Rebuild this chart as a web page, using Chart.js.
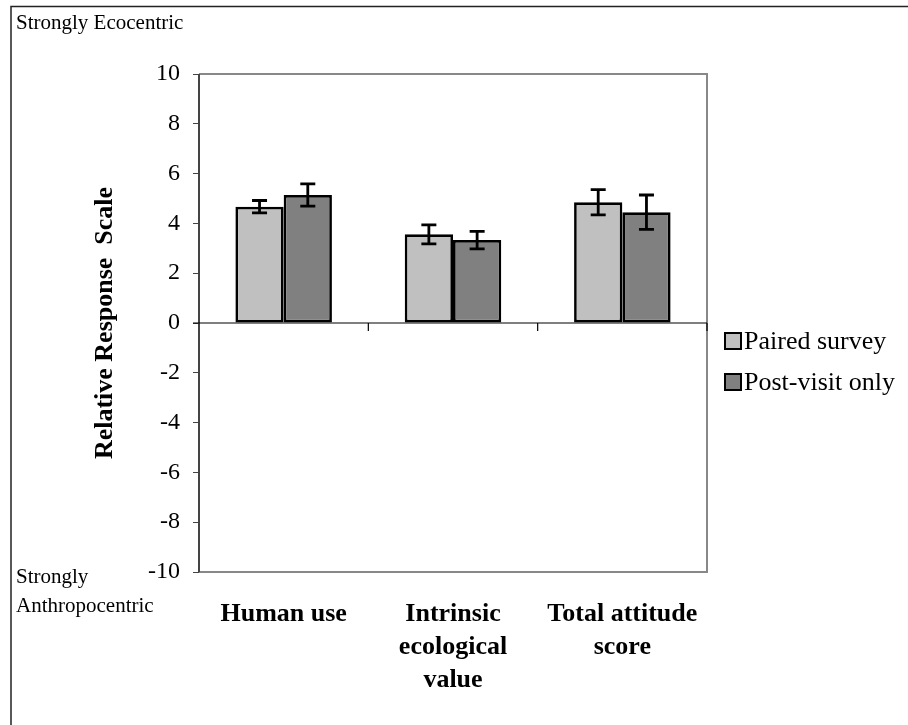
<!DOCTYPE html>
<html>
<head>
<meta charset="utf-8">
<script src="https://cdn.jsdelivr.net/npm/chart.js@4.4.1/dist/chart.umd.min.js"></script>
<style>
  html, body { margin: 0; padding: 0; background: #fff; }
  #wrap { width: 908px; height: 725px; position: relative; }
</style>
</head>
<body>
<div id="wrap"><canvas id="c" width="908" height="725"></canvas></div>
<script>
// Attitude scores by dimension
const categories = [["Human use"], ["Intrinsic", "ecological", "value"], ["Total attitude", "score"]];
const seriesNames = ["Paired survey", "Post-visit only"];
const pairedMeans = [4.67, 3.56, 4.85];
const pairedErr = [0.25, 0.38, 0.51];
const postMeans = [5.14, 3.33, 4.45];
const postErr = [0.45, 0.35, 0.69];
const yTicks = [-10, -8, -6, -4, -2, 0, 2, 4, 6, 8, 10];

const SERIF = '"Liberation Serif", "Times New Roman", serif';
const fills = ["#c0c0c0", "#808080"];
const errors = [pairedErr, postErr];

// Error bars, zero line, plot frame, side notes and legend
const decor = {
  id: "decor",
  beforeDatasetsDraw(chart) {
    const { ctx, chartArea: a, scales: { y } } = chart;
    ctx.save();
    // plot frame (grey) and left axis (dark)
    ctx.strokeStyle = "#888";
    ctx.lineWidth = 2;
    ctx.beginPath();
    ctx.moveTo(a.left, a.top); ctx.lineTo(a.right, a.top);
    ctx.lineTo(a.right, a.bottom); ctx.lineTo(a.left, a.bottom);
    ctx.stroke();
    ctx.strokeStyle = "#444";
    ctx.beginPath();
    ctx.moveTo(a.left, a.top); ctx.lineTo(a.left, a.bottom);
    ctx.stroke();
    // zero line with category boundary ticks
    const y0 = y.getPixelForValue(0);
    ctx.strokeStyle = "#000";
    ctx.lineWidth = 1.2;
    ctx.beginPath();
    ctx.moveTo(a.left - 6, y0); ctx.lineTo(a.right, y0);
    const n = categories.length;
    for (let i = 1; i <= n; i++) {
      const bx = a.left + (a.right - a.left) * i / n;
      ctx.moveTo(bx, y0); ctx.lineTo(bx, y0 + 8);
    }
    ctx.stroke();
    ctx.restore();
  },
  afterDatasetsDraw(chart) {
    const { ctx, scales: { y } } = chart;
    ctx.save();
    ctx.strokeStyle = "#000";
    ctx.lineWidth = 2.8;
    chart.data.datasets.forEach((ds, di) => {
      const meta = chart.getDatasetMeta(di);
      meta.data.forEach((bar, i) => {
        const v = ds.data[i], e = errors[di][i];
        const top = y.getPixelForValue(v + e), bot = y.getPixelForValue(v - e);
        const cx = bar.x, w = 7.5;
        ctx.beginPath();
        ctx.moveTo(cx, top); ctx.lineTo(cx, bot);
        ctx.moveTo(cx - w, top); ctx.lineTo(cx + w, top);
        ctx.moveTo(cx - w, bot); ctx.lineTo(cx + w, bot);
        ctx.stroke();
      });
    });
    ctx.restore();
  },
  afterDraw(chart) {
    const { ctx, chartArea: a } = chart;
    ctx.save();
    // outer frame
    ctx.strokeStyle = "#222";
    ctx.lineWidth = 1.5;
    ctx.beginPath();
    ctx.moveTo(11, 725); ctx.lineTo(11, 6.5); ctx.lineTo(908, 6.5);
    ctx.stroke();
    // side notes
    ctx.fillStyle = "#000";
    ctx.font = "21px " + SERIF;
    ctx.textAlign = "left";
    ctx.textBaseline = "alphabetic";
    ctx.fillText("Strongly Ecocentric", 16, 29);
    ctx.fillText("Strongly", 16, 583);
    ctx.fillText("Anthropocentric", 16, 612);
    // y axis title
    ctx.save();
    ctx.translate(105, (a.top + a.bottom) / 2);
    ctx.rotate(-Math.PI / 2);
    ctx.font = "bold 26px " + SERIF;
    ctx.textAlign = "center";
    ctx.textBaseline = "middle";
    ctx.fillText("Relative Response  Scale", 0, 0);
    ctx.restore();
    // legend
    ctx.font = "26px " + SERIF;
    ctx.textBaseline = "middle";
    ctx.textAlign = "left";
    seriesNames.forEach((name, i) => {
      const cy = 341 + i * 41;
      ctx.fillStyle = fills[i];
      ctx.fillRect(725, cy - 8, 16, 16);
      ctx.strokeStyle = "#000";
      ctx.lineWidth = 2;
      ctx.strokeRect(725, cy - 8, 16, 16);
      ctx.fillStyle = "#000";
      ctx.fillText(name, 744, cy + 1);
    });
    ctx.restore();
  }
};

new Chart(document.getElementById("c"), {
  type: "bar",
  data: {
    labels: categories,
    datasets: [
      { label: seriesNames[0], data: pairedMeans, backgroundColor: fills[0] },
      { label: seriesNames[1], data: postMeans, backgroundColor: fills[1] }
    ]
  },
  options: {
    responsive: false,
    animation: false,
    devicePixelRatio: 1,
    layout: { padding: { top: 74, right: 201, left: 0, bottom: 0 } },
    datasets: {
      bar: {
        categoryPercentage: 0.57,
        barPercentage: 1,
        borderColor: "#000",
        borderWidth: 2.7,
        borderSkipped: false
      }
    },
    plugins: { legend: { display: false }, tooltip: { enabled: false } },
    scales: {
      x: {
        grid: { display: false, drawTicks: false },
        border: { display: false },
        ticks: {
          color: "#000",
          padding: 26,
          maxRotation: 0,
          autoSkip: false,
          font: { family: SERIF, size: 26, weight: "bold", lineHeight: 1.27 }
        },
        afterFit(s) { s.height = 153; }
      },
      y: {
        min: -10, max: 10,
        afterBuildTicks(s) { s.ticks = yTicks.map(v => ({ value: v })); },
        grid: { drawOnChartArea: false, drawTicks: true, tickLength: 6, color: "#444", lineWidth: 1 },
        border: { display: false },
        ticks: {
          color: "#000",
          padding: 13,
          font: { family: SERIF, size: 24 }
        },
        afterFit(s) { s.width = 199; }
      }
    }
  },
  plugins: [decor]
});
</script>
</body>
</html>
